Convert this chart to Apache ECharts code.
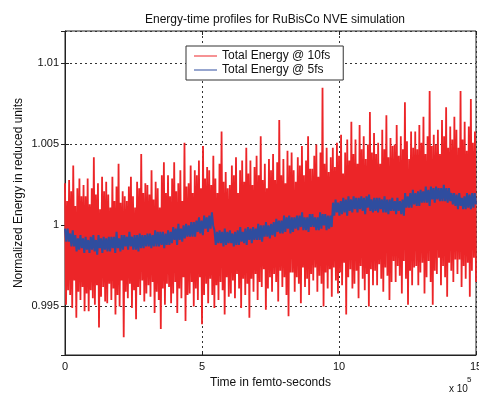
<!DOCTYPE html>
<html><head><meta charset="utf-8">
<script src="https://cdn.jsdelivr.net/npm/echarts@6/dist/echarts.min.js"></script>
<style>html,body{margin:0;padding:0;background:#fff}#c{width:479px;height:393px}</style>
</head><body><div id="c"></div>
<script>
const titleText = 'Energy-time profiles for RuBisCo NVE simulation';
const xName = 'Time in femto-seconds';
const yName = 'Normalized Energy in reduced units';
const seriesNames = ['Total Energy @ 10fs', 'Total Energy @ 5fs'];
const xMin = 0, xMax = 15, xStep = 5;       // time axis, units of 1e5 fs
const yMin = 0.992, yMax = 1.012;           // normalized energy
const red10fs = [
26,-49,15,-40,28,-43,21,-51,37,-34,12,-57,23,-41,29,-46,18,-38,25,-53,
18,-42,29,-53,13,-40,23,-45,42,-49,19,-37,26,-63,10,-44,30,-38,21,-47,
27,-48,19,-36,11,-46,30,-39,15,-55,24,-43,38,-50,14,-34,21,-69,18,-41,
15,-45,24,-36,30,-51,18,-40,11,-58,27,-38,23,-43,44,-34,20,-47,26,-42,
25,-37,19,-44,34,-35,16,-54,27,-41,23,-46,11,-64,31,-39,39,-49,20,-36,
31,-38,18,-48,29,-42,39,-35,21,-54,26,-39,34,-45,15,-32,51,-59,24,-43,
26,-42,37,-35,20,-50,34,-39,31,-46,40,-32,23,-61,49,-43,29,-36,36,-48,
34,-33,25,-43,43,-51,29,-37,20,-46,38,-35,58,-40,27,-55,33,-32,23,-44,
25,-42,37,-34,31,-45,42,-30,20,-39,34,-51,40,-33,27,-43,48,-36,32,-57,
40,-33,25,-41,36,-30,43,-46,31,-35,55,-38,28,-27,38,-52,23,-39,41,-32,
34,-41,44,-30,28,-35,39,-47,65,-28,31,-38,41,-32,26,-43,46,-56,37,-29,
45,-29,34,-41,27,-32,42,-36,37,-48,49,-26,31,-38,40,-33,55,-43,35,-30,
35,-34,43,-26,50,-41,30,-31,45,-36,85,-50,38,-29,48,-39,33,-27,42,-44,
48,-26,36,-34,51,-42,43,-29,56,-37,32,-23,45,-55,53,-32,40,-27,64,-39,
44,-36,53,-28,38,-45,62,-25,47,-33,55,-40,41,-30,50,-50,70,-27,45,-37,
57,-28,44,-37,51,-24,38,-33,59,-41,47,-26,68,-31,42,-46,54,-35,49,-22,
50,-35,62,-25,43,-31,55,-42,47,-22,76,-33,52,-49,41,-28,58,-37,48,-26,
58,-25,47,-37,62,-29,51,-23,67,-42,44,-32,55,-22,83,-35,49,-49,56,-28,
50,-30,59,-20,44,-37,65,-25,55,-32,73,-44,48,-23,61,-28,53,-35,67,-21,
59,-30,48,-21,83,-38,53,-25,64,-33,46,-23,61,-44,78,-28,51,-20,58,-35
];
const blue5fs = [
-2,-10,-2,-10,-5,-13,-3,-13,-6,-16,-8,-15,-6,-14,-8,-17,
-7,-15,-9,-17,-7,-15,-6,-16,-9,-18,-6,-14,-8,-17,-7,-15,
-8,-16,-7,-16,-7,-14,-7,-17,-4,-14,-8,-16,-6,-15,-6,-13,
-7,-15,-4,-13,-7,-15,-6,-15,-6,-16,-5,-14,-6,-14,-6,-13,
-5,-13,-5,-14,-6,-13,-3,-13,-4,-13,-4,-12,-4,-14,-5,-12,
-3,-12,-4,-11,-1,-9,-2,-12,1,-9,-2,-10,0,-8,1,-7,
0,-7,2,-7,2,-7,3,-4,5,-5,3,-6,6,-2,5,-4,
6,-2,8,0,-3,-12,-4,-11,-3,-11,-4,-13,-2,-12,-4,-11,
-3,-11,-5,-13,-4,-12,-3,-12,-1,-10,-4,-11,-2,-12,-1,-9,
-2,-11,-1,-9,-2,-9,1,-9,0,-10,0,-7,2,-7,0,-8,
1,-6,2,-7,4,-4,3,-5,3,-5,6,-4,5,-2,6,-5,
5,-4,5,-2,6,-3,6,-1,8,-3,5,-3,5,-4,7,-1,
7,-1,5,-3,5,-3,8,-2,7,0,7,-3,6,-2,6,-1,
14,6,16,8,14,6,15,7,17,8,16,6,18,9,16,8,
18,10,17,8,17,10,18,9,17,7,18,11,19,9,16,8,
17,9,17,8,17,10,16,8,18,8,16,7,16,9,17,9,
15,7,17,9,15,7,16,6,20,11,18,11,20,11,22,13,
20,12,21,12,22,14,21,14,24,14,22,12,24,16,23,14,
24,16,23,15,23,15,25,15,23,14,23,15,20,13,20,12,
19,10,20,12,17,10,18,10,20,11,19,10,20,11,20,13
];
const redColor = '#ec2528', blueColor = '#2f4d9f';

function toPoints(dev) {
  const n = dev.length;
  return dev.map((d, i) => [xMin + i * (xMax - xMin) / (n - 1), 1 + d * 1e-4]);
}

const font = 'Liberation Sans, Arial, Helvetica, sans-serif';
const chart = echarts.init(document.getElementById('c'), null, {renderer: 'canvas'});
const split = {show: true, lineStyle: {color: '#333', type: [2, 3], width: 1}};
chart.setOption({
  animation: false,
  backgroundColor: '#fff',
  textStyle: {fontFamily: font},
  title: {text: titleText, left: 270, top: 9, textAlign: 'center',
    textStyle: {fontFamily: font, fontSize: 12, fontWeight: 'normal', color: '#111'}},
  grid: {left: 65, right: 3, top: 31, bottom: 38, show: true, borderColor: '#222', borderWidth: 1,
    containLabel: false, outerBoundsMode: 'none'},
  legend: {
    orient: 'vertical', left: 186, top: 46,
    padding: [3, 13, 3, 8], itemGap: 0, itemWidth: 23, itemHeight: 1,
    backgroundColor: '#fff', borderColor: '#333', borderWidth: 1, borderRadius: 0,
    textStyle: {fontFamily: font, fontSize: 12, color: '#111', lineHeight: 14},
    data: [
      {name: seriesNames[0], icon: 'rect', itemStyle: {color: redColor}},
      {name: seriesNames[1], icon: 'rect', itemStyle: {color: blueColor}}
    ]
  },
  xAxis: [{
    type: 'value', min: xMin, max: xMax, interval: xStep,
    name: xName, nameLocation: 'middle', nameGap: 22, nameMoveOverlap: false,
    nameTextStyle: {fontFamily: font, fontSize: 12, color: '#111'},
    axisLine: {show: true, lineStyle: {color: '#222'}},
    axisTick: {show: true, inside: true, length: 4, lineStyle: {color: '#222'}},
    axisLabel: {margin: 6, fontFamily: font, fontSize: 11, color: '#111'},
    splitLine: split
  }, {
    type: 'value', min: xMin, max: xMax, interval: xStep, position: 'top',
    axisLine: {show: false}, axisLabel: {show: false},
    axisTick: {show: true, inside: true, length: 4, lineStyle: {color: '#222'}},
    splitLine: {show: false}
  }],
  yAxis: [{
    type: 'value', min: yMin, max: yMax, splitNumber: 4,
    name: yName, nameLocation: 'middle', nameGap: 40, nameMoveOverlap: false,
    nameTextStyle: {fontFamily: font, fontSize: 12, color: '#111'},
    axisLine: {show: true, lineStyle: {color: '#222'}},
    axisTick: {show: true, inside: true, length: 4, lineStyle: {color: '#222'}},
    axisLabel: {margin: 6, fontFamily: font, fontSize: 11, color: '#111', showMinLabel: false, showMaxLabel: false},
    splitLine: split
  }, {
    type: 'value', min: yMin, max: yMax, splitNumber: 4, position: 'right',
    axisLine: {show: false}, axisLabel: {show: false},
    axisTick: {show: true, inside: true, length: 4, lineStyle: {color: '#222'}},
    splitLine: {show: false}
  }],
  graphic: [
    {type: 'text', left: 449, top: 384, style: {text: 'x 10', font: '10px ' + font, fill: '#111'}},
    {type: 'text', left: 467, top: 376, style: {text: '5', font: '8px ' + font, fill: '#111'}}
  ],
  series: [
    {name: seriesNames[0], type: 'line', data: toPoints(red10fs), showSymbol: false, symbol: 'none',
      sampling: null, lineStyle: {color: redColor, width: 1.8}, itemStyle: {color: redColor}, clip: true, z: 2},
    {name: seriesNames[1], type: 'line', data: toPoints(blue5fs), showSymbol: false, symbol: 'none',
      lineStyle: {color: blueColor, width: 2}, itemStyle: {color: blueColor}, clip: true, z: 3}
  ]
});
</script></body></html>
